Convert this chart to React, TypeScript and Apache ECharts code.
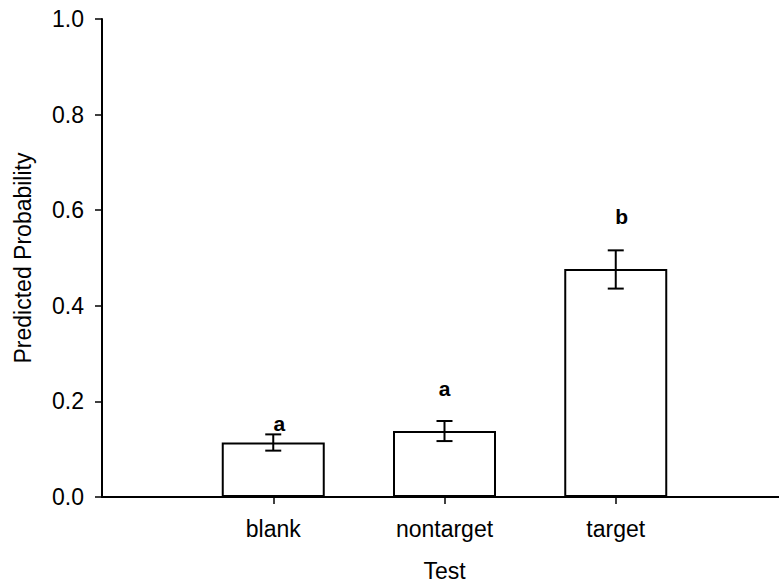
import React, { useEffect, useRef } from "react";
import * as echarts from "echarts";

const categories = ["", "blank", "nontarget", "target", ""];
const means = [0.114, 0.138, 0.477];
const lowerErr = [0.097, 0.117, 0.436];
const upperErr = [0.131, 0.159, 0.516];
const letters = ["a", "a", "b"];
const letterY = [0.153, 0.226, 0.586];
const letterDx = [6, 0, 6];
const yTicks = [0, 0.2, 0.4, 0.6, 0.8, 1.0];

const FONT = "'Liberation Sans', Arial, Helvetica, sans-serif";

export default function App() {
  const ref = useRef<HTMLDivElement>(null);
  useEffect(() => {
    if (!ref.current) return;
    const chart = echarts.init(ref.current, null, { renderer: "svg" });
    const barData: any[] = ["-", ...means, "-"];
    const errData = means.map((_, i) => [i + 1, lowerErr[i], upperErr[i]]);
    const letterData = letters.map((_, i) => [i + 1, letterY[i], letterDx[i]]);
    chart.setOption({
      animation: false,
      backgroundColor: "#ffffff",
      textStyle: { fontFamily: FONT },
      grid: {
        left: 102,
        width: 685,
        top: 19,
        height: 478,
        containLabel: false,
        outerBoundsMode: "none",
      },
      xAxis: {
        type: "category",
        data: categories,
        boundaryGap: false,
        name: "Test",
        nameLocation: "middle",
        nameGap: 62,
        nameTextStyle: { fontSize: 23, color: "#000", fontFamily: FONT, lineHeight: 23 },
        axisLine: { lineStyle: { color: "#000", width: 2 } },
        axisTick: {
          length: 7,
          interval: (idx: number, val: string) => val !== "",
          lineStyle: { color: "#000", width: 1.5 },
        },
        axisLabel: {
          interval: 0,
          margin: 20,
          fontSize: 23,
          color: "#000",
          fontFamily: FONT,
        },
        splitLine: { show: false },
      },
      yAxis: {
        type: "value",
        min: 0,
        max: 1,
        interval: 0.2,
        name: "Predicted Probability",
        nameLocation: "middle",
        nameGap: 68,
        nameTextStyle: { fontSize: 23, color: "#000", fontFamily: FONT },
        axisLine: { show: true, lineStyle: { color: "#000", width: 2 } },
        axisTick: { show: true, length: 7, lineStyle: { color: "#000", width: 1.5 } },
        axisLabel: {
          margin: 18,
          fontSize: 23,
          color: "#000",
          fontFamily: FONT,
          formatter: (v: number) => (yTicks.some((t) => Math.abs(t - v) < 1e-9) ? v.toFixed(1) : ""),
        },
        splitLine: { show: false },
      },
      series: [
        {
          type: "bar",
          data: barData,
          barWidth: 103,
          itemStyle: { color: "#ffffff", borderColor: "#000", borderWidth: 2 },
          z: 2,
        },
        {
          type: "custom",
          data: errData,
          z: 3,
          renderItem: (params: any, api: any) => {
            const x = api.value(0);
            const lo = api.coord([x, api.value(1)]);
            const hi = api.coord([x, api.value(2)]);
            const hw = 8;
            const style = { stroke: "#000", lineWidth: 2 };
            return {
              type: "group",
              children: [
                { type: "line", shape: { x1: lo[0], y1: lo[1], x2: hi[0], y2: hi[1] }, style },
                { type: "line", shape: { x1: lo[0] - hw, y1: lo[1], x2: lo[0] + hw, y2: lo[1] }, style },
                { type: "line", shape: { x1: hi[0] - hw, y1: hi[1], x2: hi[0] + hw, y2: hi[1] }, style },
              ],
            };
          },
        },
        {
          type: "custom",
          data: letterData,
          z: 4,
          renderItem: (params: any, api: any) => {
            const p = api.coord([api.value(0), api.value(1)]);
            return {
              type: "text",
              x: p[0] + api.value(2),
              y: p[1],
              style: {
                text: letters[params.dataIndex],
                fill: "#000",
                font: `bold 21px ${FONT}`,
                align: "center",
                verticalAlign: "middle",
              },
            };
          },
        },
      ],
    });
    return () => chart.dispose();
  }, []);
  return <div ref={ref} style={{ width: 779, height: 585, position: "fixed", left: 0, top: 0 }} />;
}
